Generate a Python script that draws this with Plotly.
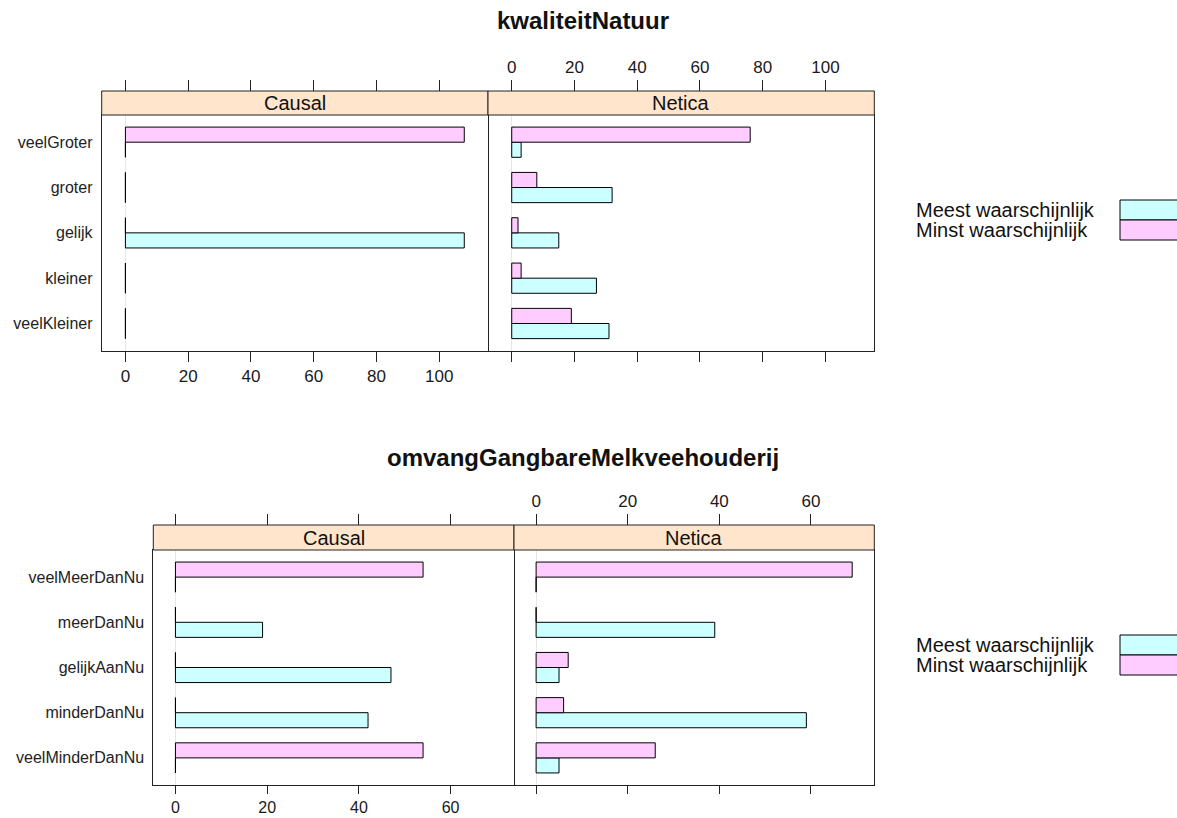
import plotly.graph_objects as go

W, H = 1177, 818

# ---- data: kwaliteitNatuur ----
natuur_cats = ["veelGroter", "groter", "gelijk", "kleiner", "veelKleiner"]
natuur_causal_meest = [0, 0, 108, 0, 0]
natuur_causal_minst = [108, 0, 0, 0, 0]
natuur_netica_meest = [3, 32, 15, 27, 31]
natuur_netica_minst = [76, 8, 2, 3, 19]
natuur_ticks = [0, 20, 40, 60, 80, 100]

# ---- data: omvangGangbareMelkveehouderij ----
melk_cats = ["veelMeerDanNu", "meerDanNu", "gelijkAanNu", "minderDanNu", "veelMinderDanNu"]
melk_causal_meest = [0, 19, 47, 42, 0]
melk_causal_minst = [54, 0, 0, 0, 54]
melk_netica_meest = [0, 39, 5, 59, 5]
melk_netica_minst = [69, 0, 7, 6, 26]
melk_ticks = [0, 20, 40, 60]

panel_names = ["Causal", "Netica"]
series_names = ["Meest waarschijnlijk", "Minst waarschijnlijk"]

COL_MEEST = "#CCFFFF"
COL_MINST = "#FFCCFF"
COL_STRIP = "#FFE5CC"
COL_LINE = "#222222"
FONT = "Liberation Sans, Arial, sans-serif"


def fx(p):
    return p / W


def fy(p):
    return 1 - p / H


charts = [
    dict(title="kwaliteitNatuur", cats=natuur_cats, ticks=natuur_ticks,
         series={"Causal": (natuur_causal_meest, natuur_causal_minst),
                 "Netica": (natuur_netica_meest, natuur_netica_minst)},
         left=101.7, mid=488.0, right=874.3,
         strip_top=91.0, plot_top=115.0, plot_bot=350.7,
         bottom_ticklen=10, bottom_font=17,
         title_y=20.0, legend_top=200.0),
    dict(title="omvangGangbareMelkveehouderij", cats=melk_cats, ticks=melk_ticks,
         series={"Causal": (melk_causal_meest, melk_causal_minst),
                 "Netica": (melk_netica_meest, melk_netica_minst)},
         left=153.3, mid=514.0, right=874.3,
         strip_top=525.0, plot_top=550.0, plot_bot=785.0,
         bottom_ticklen=8, bottom_font=16,
         title_y=457.0, legend_top=635.0),
]

fig = go.Figure()
layout = dict(
    width=W, height=H, margin=dict(l=0, r=0, t=0, b=0, autoexpand=False),
    paper_bgcolor="white", plot_bgcolor="rgba(0,0,0,0)",
    showlegend=False, barmode="group", bargap=1 / 3, bargroupgap=0,
    font=dict(family=FONT, color="#1a1a1a"),
)
shapes = []
annotations = []

for c, ch in enumerate(charts):
    vmax = max(max(v) for pair in ch["series"].values() for v in pair)
    xr = [-0.07 * vmax, vmax * 1.07]
    bottom_to_top = list(reversed(ch["cats"]))
    edges = [(ch["left"], ch["mid"]), (ch["mid"], ch["right"])]

    for p, pname in enumerate(panel_names):
        n = c * 2 + p + 1
        nt = n + 4
        x0, x1 = edges[p]
        dom_x = [fx(x0), fx(x1)]
        dom_y = [fy(ch["plot_bot"]), fy(ch["plot_top"])]
        meest, minst = ch["series"][pname]
        xa = "x" if n == 1 else f"x{n}"
        ya = "y" if n == 1 else f"y{n}"
        first = pname == "Causal"

        for vals, col, name in ((meest, COL_MEEST, series_names[0]),
                                (minst, COL_MINST, series_names[1])):
            fig.add_trace(go.Bar(
                x=vals, y=ch["cats"], orientation="h", name=name,
                marker=dict(color=col, line=dict(color="black", width=1)),
                xaxis=xa, yaxis=ya, hoverinfo="x+y",
            ))
        # carrier trace for the tick axis above the strip
        fig.add_trace(go.Scatter(x=[None], y=[None], xaxis=f"x{nt}", yaxis=ya,
                                 showlegend=False, hoverinfo="skip"))

        layout[f"xaxis{n}"] = dict(
            domain=dom_x, anchor=ya, range=xr, tickvals=ch["ticks"],
            ticks="outside", ticklen=ch["bottom_ticklen"], tickcolor=COL_LINE, tickwidth=1,
            showticklabels=first, ticklabelstandoff=0, automargin=False,
            tickfont=dict(size=ch["bottom_font"], family=FONT, color="#1a1a1a"),
            showline=True, mirror=True, linecolor=COL_LINE, linewidth=1,
            showgrid=False, zeroline=True, zerolinecolor="#e6e6e6", zerolinewidth=1,
            fixedrange=True,
        )
        layout[f"xaxis{nt}"] = dict(
            domain=dom_x, anchor="free", position=fy(ch["strip_top"]), side="top",
            range=xr, tickvals=ch["ticks"],
            ticks="outside", ticklen=11, tickcolor=COL_LINE, tickwidth=1,
            showticklabels=not first, ticklabelstandoff=0, automargin=False,
            tickfont=dict(size=17, family=FONT, color="#1a1a1a"),
            showline=False, showgrid=False, zeroline=False, fixedrange=True,
        )
        layout[f"yaxis{n}"] = dict(
            domain=dom_y, anchor=xa, type="category",
            categoryorder="array", categoryarray=bottom_to_top,
            range=[-0.6, len(bottom_to_top) - 0.4],
            side="left" if first else "right", mirror=first,
            showticklabels=first, ticks="", ticklabelstandoff=5, automargin=False,
            tickfont=dict(size=16, family=FONT, color="#222222"),
            showline=True, linecolor=COL_LINE, linewidth=1,
            showgrid=False, zeroline=False, fixedrange=True,
        )

        # strip
        shapes.append(dict(type="rect", xref="paper", yref="paper",
                           x0=fx(x0), x1=fx(x1), y0=fy(ch["plot_top"]), y1=fy(ch["strip_top"]),
                           fillcolor=COL_STRIP, line=dict(color=COL_LINE, width=1), layer="above"))
        annotations.append(dict(text=pname, xref="paper", yref="paper",
                                x=(fx(x0) + fx(x1)) / 2,
                                y=(fy(ch["plot_top"]) + fy(ch["strip_top"])) / 2,
                                showarrow=False, xanchor="center", yanchor="middle",
                                font=dict(size=20, family=FONT, color="#111111")))

    # chart title
    annotations.append(dict(text=f"<b>{ch['title']}</b>", xref="paper", yref="paper",
                            x=fx(583), y=fy(ch["title_y"]), showarrow=False,
                            xanchor="center", yanchor="middle",
                            font=dict(size=24, family=FONT, color="#111111")))

    # key
    lt = ch["legend_top"]
    for k, (name, col) in enumerate(zip(series_names, (COL_MEEST, COL_MINST))):
        shapes.append(dict(type="rect", xref="paper", yref="paper",
                           x0=fx(1120), x1=fx(1220), y0=fy(lt + 20 * (k + 1)), y1=fy(lt + 20 * k),
                           fillcolor=col, line=dict(color="black", width=1)))
        annotations.append(dict(text=name, xref="paper", yref="paper",
                                x=fx(914), y=fy(lt + 10 + 20 * k), showarrow=False,
                                xanchor="left", yanchor="middle",
                                font=dict(size=20, family=FONT, color="#111111")))

layout["shapes"] = shapes
layout["annotations"] = annotations
fig.update_layout(**layout)
fig.write_html("out.html")
